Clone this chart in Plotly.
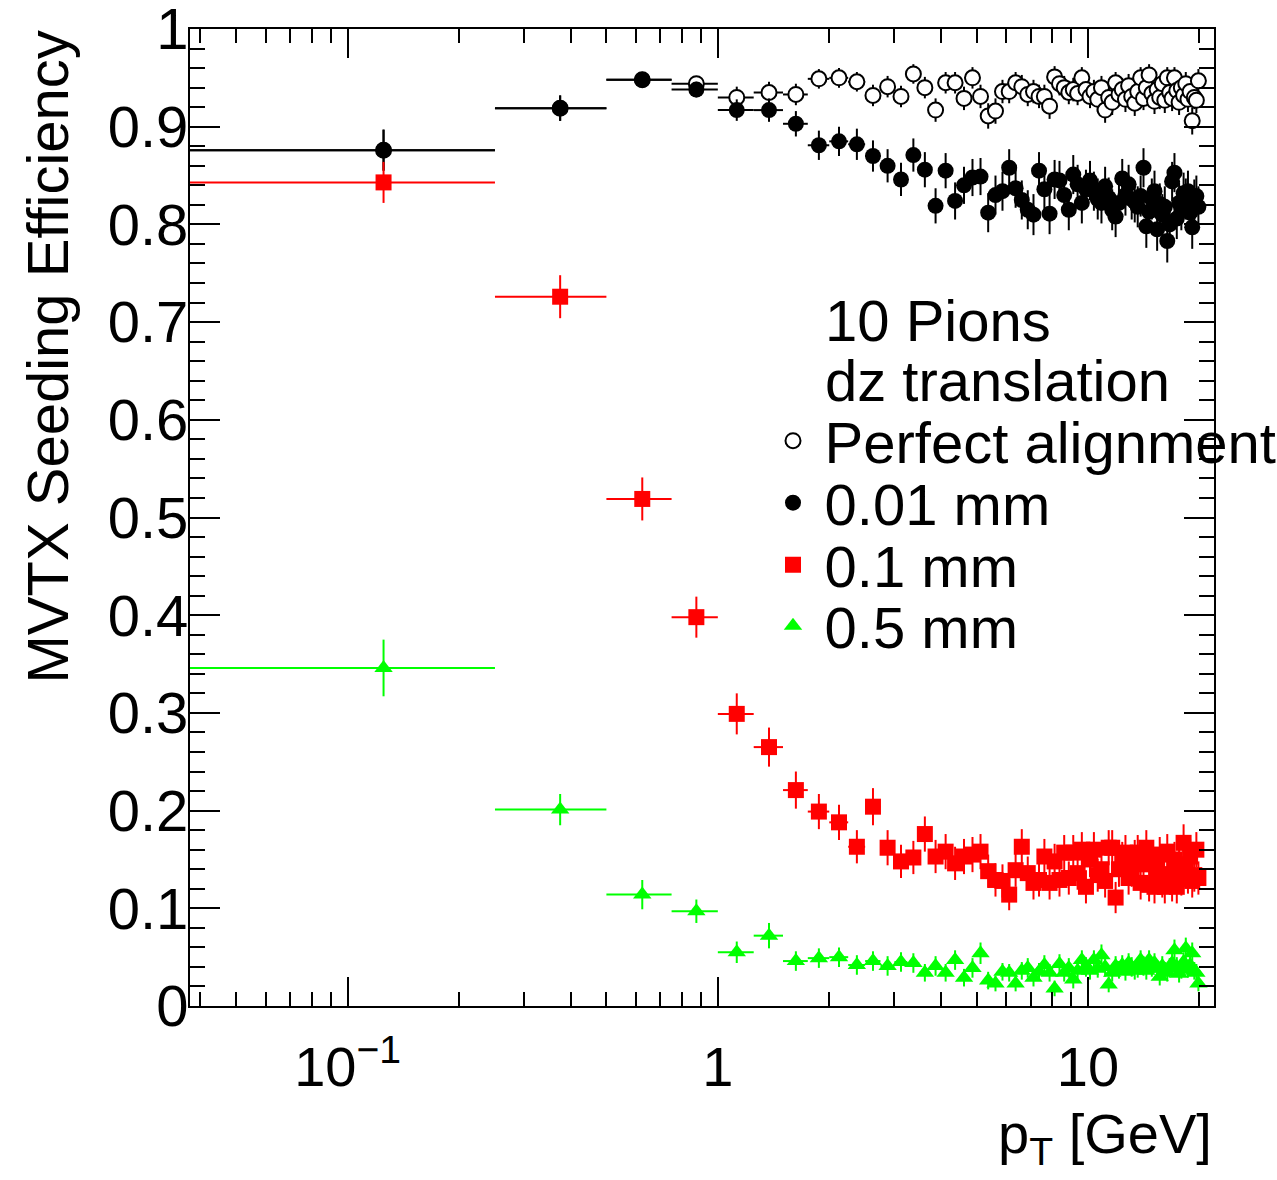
import math
import plotly.graph_objects as go

# ---------------- data ----------------
bin_width = 0.25
n_bins = 80
pt_centers = [bin_width * (i + 0.5) for i in range(n_bins)]

eff_perfect = [
    0.876, 0.919, 0.948, 0.944, 0.930, 0.935, 0.933, 0.949, 0.950, 0.946,
    0.932, 0.941, 0.931, 0.954, 0.940, 0.917, 0.945, 0.945, 0.929, 0.950,
    0.931, 0.911, 0.916, 0.936, 0.936, 0.945, 0.941, 0.933, 0.936, 0.931,
    0.931, 0.921, 0.951, 0.944, 0.940, 0.935, 0.938, 0.934, 0.950, 0.938,
    0.931, 0.936, 0.928, 0.940, 0.917, 0.930, 0.925, 0.945, 0.933, 0.938,
    0.928, 0.942, 0.931, 0.924, 0.936, 0.950, 0.929, 0.940, 0.953, 0.934,
    0.926, 0.938, 0.930, 0.944, 0.927, 0.950, 0.935, 0.929, 0.950, 0.937,
    0.925, 0.940, 0.932, 0.944, 0.928, 0.936, 0.906, 0.930, 0.927, 0.947,
]
err_perfect = [
    0.021, 0.013, 0.008, 0.007, 0.011, 0.011, 0.011, 0.010, 0.010, 0.010,
    0.011, 0.011, 0.011, 0.010, 0.011, 0.012, 0.011, 0.011, 0.012, 0.011,
    0.012, 0.013, 0.013, 0.012, 0.012, 0.011, 0.012, 0.012, 0.012, 0.012,
    0.012, 0.013, 0.011, 0.012, 0.012, 0.012, 0.012, 0.012, 0.011, 0.012,
    0.012, 0.012, 0.013, 0.012, 0.013, 0.012, 0.013, 0.011, 0.012, 0.012,
    0.013, 0.012, 0.012, 0.013, 0.012, 0.011, 0.012, 0.012, 0.011, 0.012,
    0.013, 0.012, 0.012, 0.012, 0.013, 0.011, 0.012, 0.013, 0.011, 0.012,
    0.013, 0.012, 0.012, 0.012, 0.013, 0.012, 0.014, 0.012, 0.013, 0.012,
]

eff_001mm = [
    0.876, 0.919, 0.948, 0.938, 0.917, 0.917, 0.903, 0.881, 0.885, 0.882,
    0.870, 0.860, 0.846, 0.871, 0.856, 0.819, 0.855, 0.824, 0.840, 0.848,
    0.849, 0.812, 0.830, 0.834, 0.858, 0.837, 0.825, 0.815, 0.810, 0.855,
    0.836, 0.811, 0.846, 0.845, 0.830, 0.815, 0.851, 0.841, 0.822, 0.836,
    0.845, 0.834, 0.826, 0.822, 0.839, 0.827, 0.815, 0.808, 0.822, 0.847,
    0.830, 0.841, 0.826, 0.823, 0.818, 0.829, 0.858, 0.798, 0.813, 0.826,
    0.834, 0.795, 0.821, 0.810, 0.818, 0.783, 0.800, 0.844, 0.853, 0.806,
    0.822, 0.815, 0.832, 0.826, 0.834, 0.812, 0.797, 0.825, 0.829, 0.818,
]
err_001mm = [
    0.021, 0.013, 0.008, 0.008, 0.011, 0.012, 0.013, 0.015, 0.015, 0.016,
    0.016, 0.017, 0.017, 0.017, 0.018, 0.018, 0.018, 0.019, 0.019, 0.019,
    0.019, 0.020, 0.020, 0.020, 0.019, 0.020, 0.020, 0.020, 0.021, 0.019,
    0.020, 0.021, 0.020, 0.020, 0.020, 0.021, 0.020, 0.020, 0.021, 0.020,
    0.020, 0.020, 0.021, 0.021, 0.020, 0.021, 0.021, 0.021, 0.021, 0.020,
    0.021, 0.020, 0.021, 0.021, 0.021, 0.021, 0.020, 0.022, 0.021, 0.021,
    0.021, 0.022, 0.021, 0.021, 0.021, 0.022, 0.022, 0.020, 0.020, 0.021,
    0.021, 0.021, 0.021, 0.021, 0.021, 0.021, 0.022, 0.021, 0.021, 0.021,
]

eff_01mm = [
    0.843, 0.726, 0.519, 0.398, 0.299, 0.265, 0.221, 0.199, 0.188, 0.163,
    0.204, 0.162, 0.148, 0.152, 0.176, 0.153, 0.158, 0.146, 0.153, 0.155,
    0.158, 0.138, 0.129, 0.128, 0.114, 0.139, 0.163, 0.136, 0.126, 0.129,
    0.153, 0.126, 0.148, 0.129, 0.157, 0.131, 0.157, 0.136, 0.160, 0.122,
    0.150, 0.160, 0.134, 0.140, 0.128, 0.162, 0.162, 0.111, 0.140, 0.150,
    0.157, 0.131, 0.140, 0.152, 0.157, 0.126, 0.145, 0.162, 0.124, 0.150,
    0.122, 0.140, 0.155, 0.128, 0.122, 0.158, 0.135, 0.124, 0.150, 0.122,
    0.145, 0.130, 0.167, 0.140, 0.132, 0.153, 0.128, 0.134, 0.160, 0.131,
]
err_01mm = [
    0.021, 0.022, 0.022, 0.021, 0.021, 0.020, 0.019, 0.018, 0.018, 0.017,
    0.019, 0.018, 0.017, 0.017, 0.018, 0.017, 0.018, 0.017, 0.018, 0.018,
    0.018, 0.017, 0.017, 0.017, 0.016, 0.017, 0.018, 0.017, 0.017, 0.017,
    0.018, 0.017, 0.018, 0.017, 0.018, 0.017, 0.018, 0.017, 0.018, 0.017,
    0.018, 0.018, 0.017, 0.018, 0.017, 0.018, 0.018, 0.016, 0.018, 0.018,
    0.018, 0.017, 0.018, 0.018, 0.018, 0.017, 0.018, 0.018, 0.017, 0.018,
    0.017, 0.018, 0.018, 0.017, 0.017, 0.018, 0.018, 0.017, 0.018, 0.017,
    0.018, 0.017, 0.019, 0.018, 0.017, 0.018, 0.017, 0.017, 0.018, 0.017,
]

eff_05mm = [
    0.346, 0.201, 0.114, 0.097, 0.055, 0.072, 0.046, 0.049, 0.050, 0.042,
    0.046, 0.041, 0.045, 0.044, 0.034, 0.041, 0.034, 0.047, 0.029, 0.039,
    0.054, 0.026, 0.023, 0.035, 0.034, 0.023, 0.036, 0.039, 0.029, 0.035,
    0.042, 0.034, 0.018, 0.043, 0.034, 0.039, 0.027, 0.036, 0.047, 0.040,
    0.036, 0.047, 0.038, 0.052, 0.040, 0.022, 0.034, 0.041, 0.037, 0.042,
    0.035, 0.044, 0.040, 0.036, 0.039, 0.047, 0.041, 0.036, 0.047, 0.040,
    0.044, 0.038, 0.030, 0.041, 0.036, 0.034, 0.039, 0.044, 0.057, 0.040,
    0.033, 0.037, 0.045, 0.059, 0.038, 0.042, 0.054, 0.036, 0.034, 0.023,
]
err_05mm = [
    0.029, 0.016, 0.015, 0.012, 0.011, 0.013, 0.010, 0.010, 0.010, 0.010,
    0.010, 0.010, 0.010, 0.010, 0.009, 0.010, 0.009, 0.010, 0.009, 0.010,
    0.011, 0.009, 0.008, 0.009, 0.009, 0.008, 0.009, 0.010, 0.009, 0.009,
    0.010, 0.009, 0.008, 0.010, 0.009, 0.010, 0.009, 0.009, 0.010, 0.010,
    0.009, 0.010, 0.009, 0.011, 0.010, 0.008, 0.009, 0.010, 0.009, 0.010,
    0.009, 0.010, 0.010, 0.009, 0.010, 0.010, 0.010, 0.009, 0.010, 0.010,
    0.010, 0.009, 0.009, 0.010, 0.009, 0.009, 0.010, 0.010, 0.011, 0.010,
    0.009, 0.009, 0.010, 0.011, 0.009, 0.010, 0.011, 0.009, 0.009, 0.008,
]

series_names = ["Perfect alignment", "0.01 mm", "0.1 mm", "0.5 mm"]
legend_header = ["10 Pions", "dz translation"]
x_title = "p<sub>T</sub> [GeV]"
y_title = "MVTX Seeding Efficiency"

x_tick_vals = [0.1, 1, 10]
x_tick_text = ["10<sup>\u22121</sup>", "1", "10"]
x_minor_vals = [0.04, 0.05, 0.06, 0.07, 0.08, 0.09,
                0.2, 0.3, 0.4, 0.5, 0.6, 0.7, 0.8, 0.9,
                2, 3, 4, 5, 6, 7, 8, 9, 20]

# horizontal error = bin half width (first bin starts at 0 -> clipped on log axis)
x_lo = [max(c - bin_width / 2, 1e-3) for c in pt_centers]
xerr_minus = [c - lo for c, lo in zip(pt_centers, x_lo)]
xerr_plus = [bin_width / 2 for _ in pt_centers]

FONT = "Liberation Sans, Arial, Helvetica, sans-serif"
FS = 58
FSX = 56

styles = [
    # symbol, fill, line colour, line width, size, legend id
    ("circle", "white", "black", 2, 15, "legend"),
    ("circle", "black", "black", 0, 16, "legend2"),
    ("square", "#ff0000", "#ff0000", 0, 16, "legend3"),
    ("triangle-up", "#00ff00", "#00ff00", 0, 16, "legend4"),
]
values = [eff_perfect, eff_001mm, eff_01mm, eff_05mm]
errors = [err_perfect, err_001mm, err_01mm, err_05mm]

fig = go.Figure()
for name, vals, errs, (sym, fill, col, lw, size, leg) in zip(series_names, values, errors, styles):
    fig.add_trace(go.Scatter(
        x=pt_centers, y=vals, mode="markers", name="\u2009" + name,
        showlegend=True,
        marker=dict(symbol=sym, color=fill, size=size,
                    line=dict(color=col, width=lw)),
        error_y=dict(type="data", array=errs, color=col, thickness=2, width=0),
        error_x=dict(type="data", array=xerr_plus, arrayminus=xerr_minus,
                     color=col, thickness=2, width=0),
        legend=leg,
    ))

# plot frame in pixels: x 190..1214, y 29..1006
L, R, T, B = 190, 63, 29, 174
W, H = 1277, 1180
pw, ph = W - L - R, H - T - B


def px2paper_x(px):
    return (px - L) / pw


def px2paper_y(py):
    return (H - B - py) / ph


axis_common = dict(
    showline=True, linecolor="black", linewidth=2, mirror="ticks",
    ticks="inside", tickcolor="black", tickwidth=1.5,
    showgrid=False, zeroline=False, ticklabeloverflow="allow",
)

fig.update_layout(
    width=W, height=H, showlegend=True,
    margin=dict(l=L, r=R, t=T, b=B, autoexpand=False),
    paper_bgcolor="white", plot_bgcolor="white",
    font=dict(family=FONT, size=FS, color="black"),
    xaxis=dict(
        type="log", range=[math.log10(0.0375), math.log10(21.9)],
        tickmode="array", tickvals=x_tick_vals, ticktext=x_tick_text,
        ticklen=29, ticklabelstandoff=11,
        tickfont=dict(family=FONT, size=FSX, color="black"),
        minor=dict(tickmode="array", tickvals=x_minor_vals, ticks="inside",
                   ticklen=14, tickwidth=1.5, tickcolor="black"),
        **axis_common,
    ),
    yaxis=dict(
        range=[0, 1.00001], tick0=0, dtick=0.1, ticklen=30, ticklabelstandoff=-12,
        tickfont=dict(family=FONT, size=FS, color="black"),
        minor=dict(dtick=0.02, ticks="inside", ticklen=15, tickwidth=1.5,
                   tickcolor="black"),
        **axis_common,
    ),
)

legend_rows = [441, 503, 565, 626]
legend_style = dict(
    bgcolor="rgba(0,0,0,0)", borderwidth=0, xanchor="left", yanchor="middle",
    font=dict(family=FONT, size=FS, color="black"), itemclick=False,
    visible=True,
)
for (sty, py) in zip(styles, legend_rows):
    fig.layout[sty[5]] = dict(x=px2paper_x(773), y=px2paper_y(py), **legend_style)

# legend header lines
for text, py in zip(legend_header, [320, 380]):
    fig.add_annotation(text=text, xref="paper", yref="paper",
                       x=px2paper_x(823), y=px2paper_y(py),
                       xanchor="left", yanchor="middle", showarrow=False,
                       font=dict(family=FONT, size=FS, color="black"))

# axis titles
fig.add_annotation(text=x_title, xref="paper", yref="paper",
                   x=1.0, y=px2paper_y(1100), xanchor="right", yanchor="top",
                   showarrow=False, font=dict(family=FONT, size=FSX, color="black"))
fig.add_annotation(text=y_title, xref="paper", yref="paper",
                   x=px2paper_x(47), y=1.0, xanchor="center", yanchor="top",
                   textangle=-90, showarrow=False,
                   font=dict(family=FONT, size=FS, color="black"))

fig.write_html("out.html")
